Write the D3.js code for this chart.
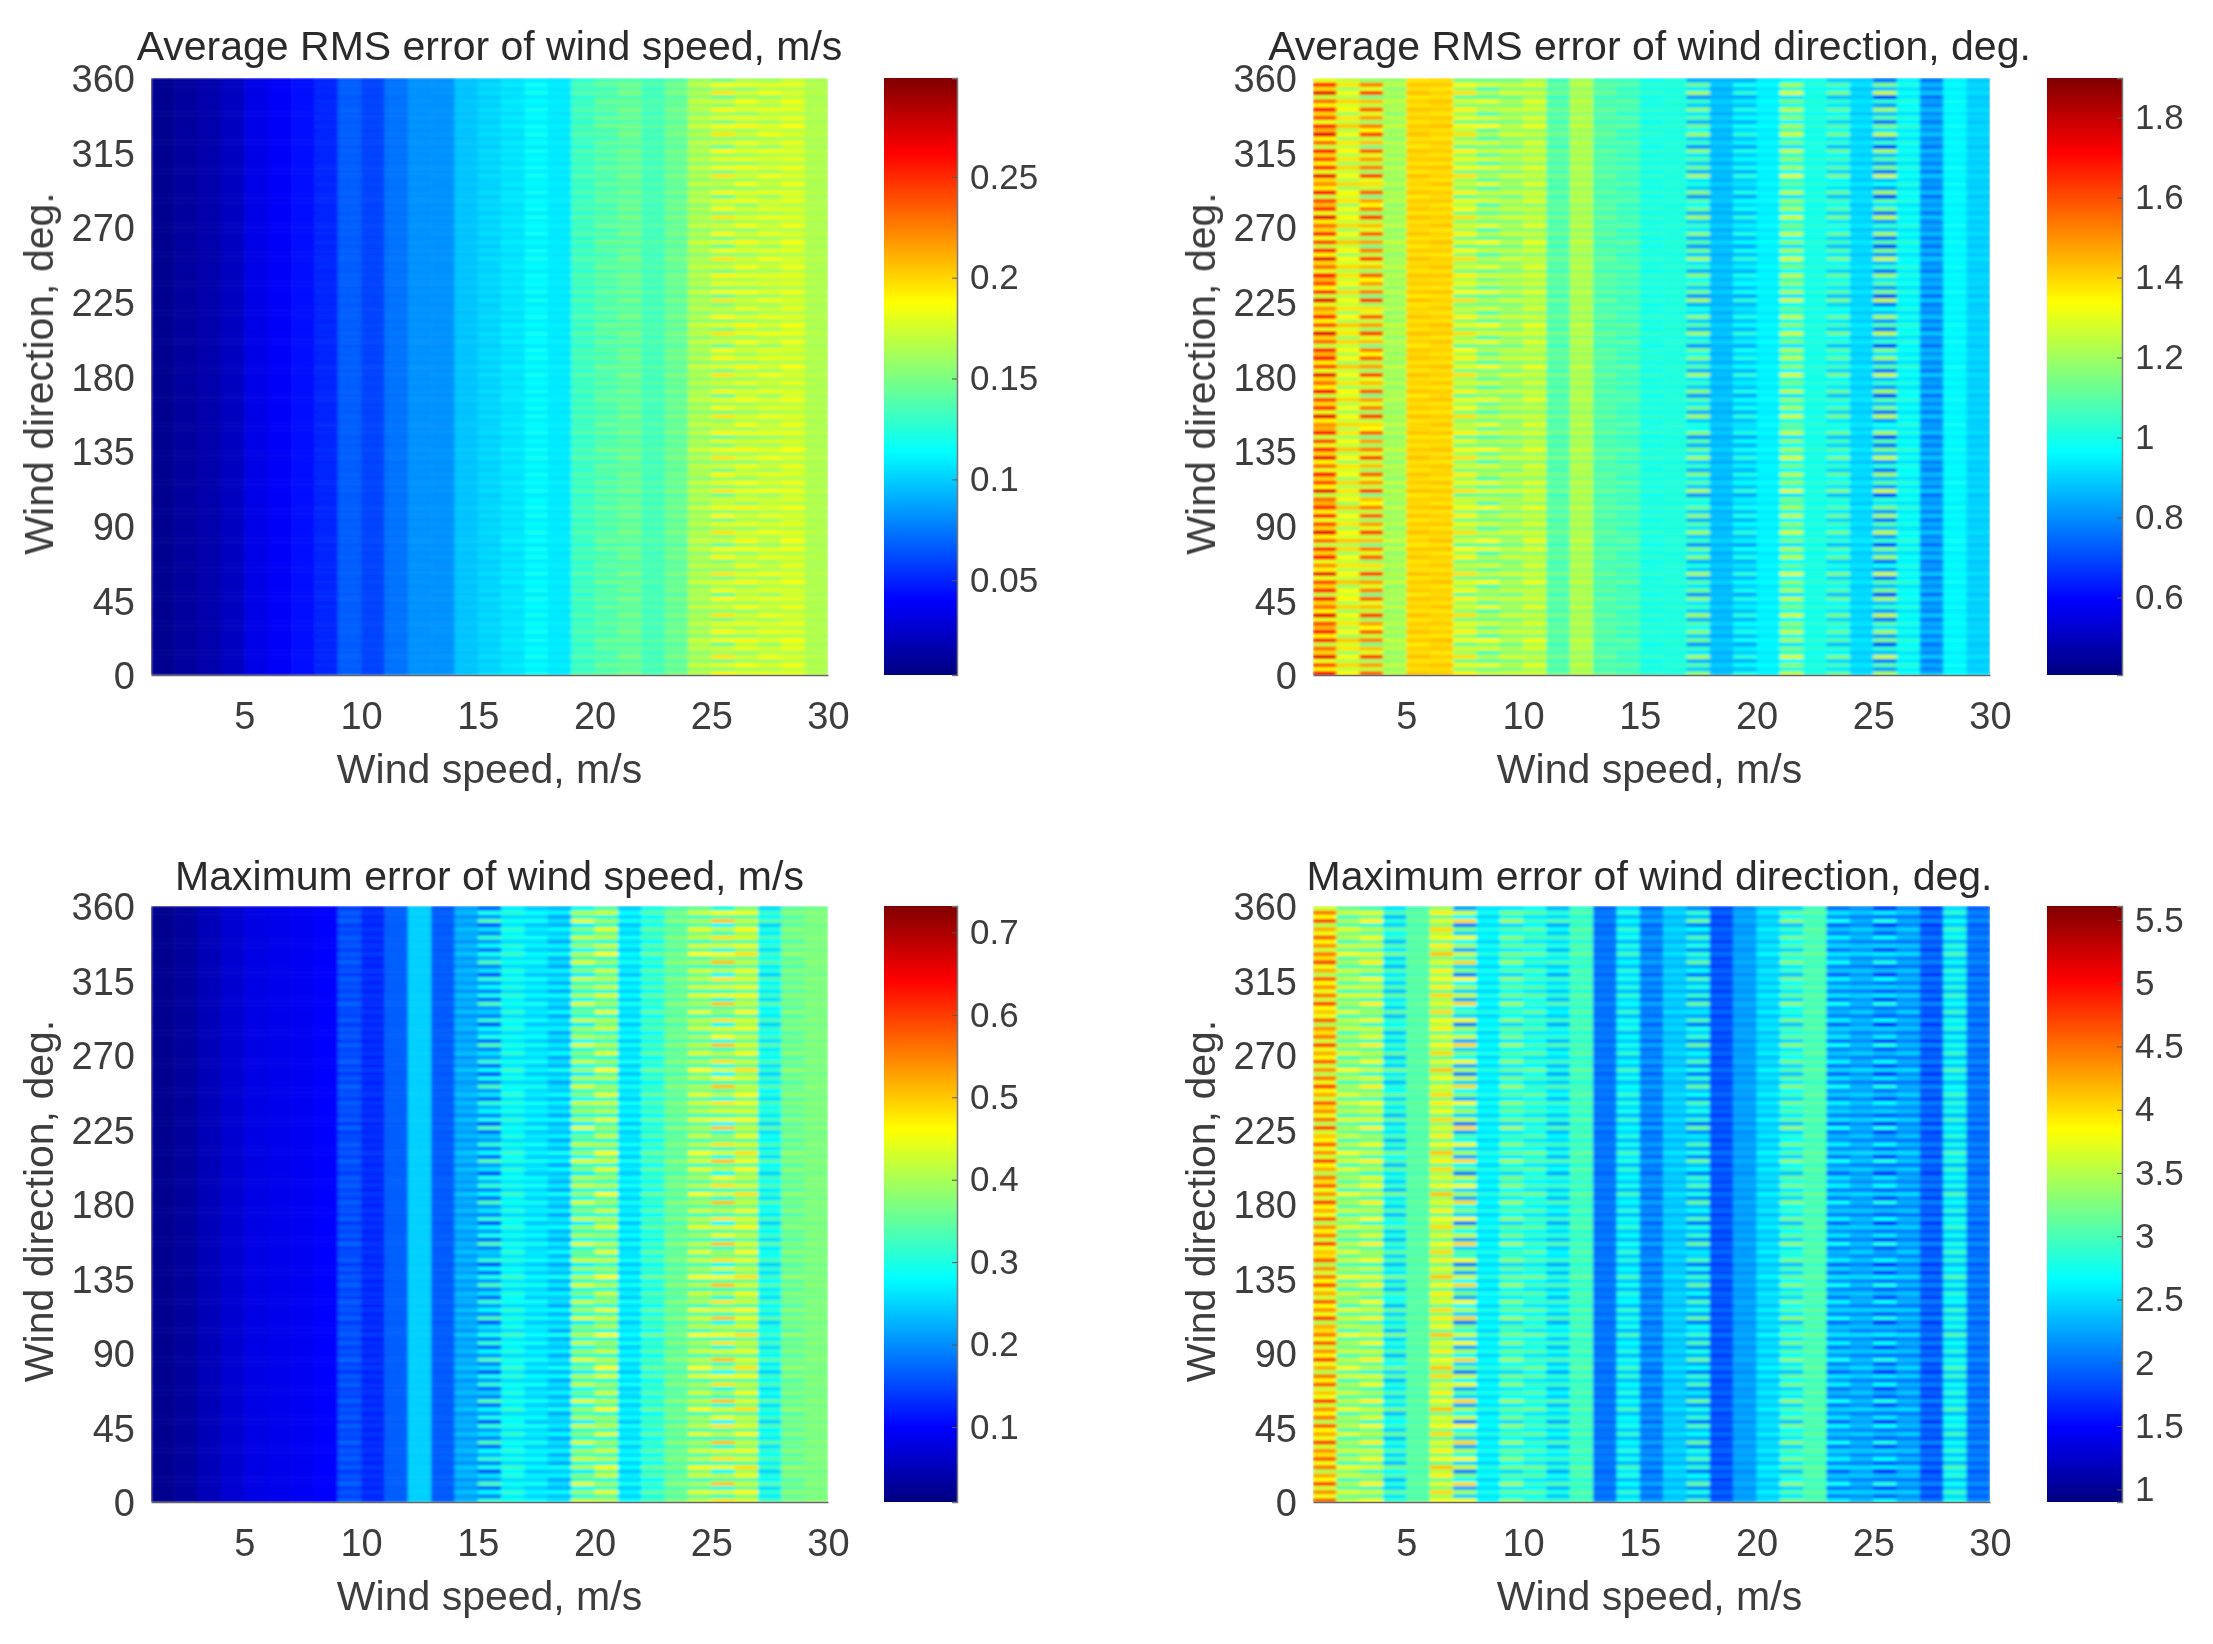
<!DOCTYPE html>
<html>
<head>
<meta charset="utf-8">
<script src="https://cdn.jsdelivr.net/npm/d3@7"></script>
<style>
  html, body { margin: 0; background: #fff; }
  text { font-family: "Liberation Sans", Arial, sans-serif; }
</style>
</head>
<body>
<svg id="chart" width="2213" height="1644"></svg>
<script>
// wind speed bins along x (left edge of each column), direction bins along y every 2.5 deg
const speeds = [1,2,3,4,5,6,7,8,9,10,11,12,13,14,15,16,17,18,19,20,21,22,23,24,25,26,27,28,29];
const directions = d3.range(0, 360, 2.5);

const xTicks = [5,10,15,20,25,30];
const yTicks = [0,45,90,135,180,225,270,315,360];

// stripe position between the low and high value, read row by row
const rowMixOdd = [
  .9,.2,.7,.1,1,.3,.6,0,.8,.2,.9,.4,
  .7,.1,1,.2,.6,.3,.9,0,.8,.3,.7,.1,
  1,.2,.5,.1,.9,.3,.8,0,.6,.2,1,.3,
  .7,.1,.9,.2,.8,.4,.6,0,1,.2,.7,.3,
  .9,.1,.6,.2,1,.3,.8,.1,.7,0,.9,.4,
  .5,.2,1,.1,.8,.3,.7,0,.9,.2,.6,.3,
  1,.1,.7,.2,.9,.4,.8,0,.6,.3,1,.1,
  .7,.2,.9,.3,.5,.1,1,0,.8,.2,.7,.4,
  .9,.1,.6,.3,1,.2,.8,0,.7,.1,.9,.3,
  .6,.2,1,.1,.8,.4,.7,0,.9,.2,.5,.3,
  1,.1,.8,.2,.7,.3,.9,0,.6,.2,1,.4,
  .8,.1,.7,.3,.9,.2,.6,0,1,.3,.8,.1
];
const rowMixEven = [
  .7,.3,.9,.2,.6,.1,.8,.4,1,.1,.7,.2,
  .8,.3,.6,.1,.9,.2,.7,.4,.6,.1,1,.3,
  .7,.2,.8,.3,.6,.1,.9,.2,1,.4,.7,.1,
  .8,.3,.6,.2,1,.1,.7,.3,.8,.2,.9,.1,
  .6,.4,.8,.1,.7,.2,1,.3,.6,.1,.8,.2,
  .9,.3,.7,.1,.6,.2,.9,.4,.7,.1,.8,.2,
  .6,.3,1,.1,.7,.2,.6,.3,.9,.1,.8,.4,
  1,.2,.7,.1,.8,.3,.6,.2,.9,.1,.7,.3,
  .8,.2,.9,.4,.6,.1,.7,.3,1,.2,.6,.1,
  .9,.3,.7,.2,.6,.1,.8,.4,.7,.1,.9,.2,
  .6,.3,.9,.1,.8,.2,.7,.3,.8,.1,.6,.2,
  1,.3,.8,.1,.7,.4,.9,.2,.6,.1,.8,.3
];

const avgSpeedLow = [.008,.012,.016,.022,.033,.038,.043,.05,.066,.058,.072,.081,.081,.095,.099,.103,.108,.106,.125,.13,.136,.13,.138,.152,.145,.152,.158,.162,.162];
const avgSpeedHigh = [.008,.012,.016,.022,.033,.038,.044,.052,.069,.061,.075,.084,.084,.099,.105,.11,.118,.11,.14,.148,.152,.14,.152,.175,.195,.19,.185,.188,.168];
const avgDirLow = [1.25,1.18,1.15,1.16,1.37,1.37,1.12,1.05,1.13,1.16,1.05,1.18,1.05,1.02,.98,1.0,.82,.84,.84,.93,.93,.98,.88,.88,.72,.92,.76,.94,.88];
const avgDirHigh = [1.75,1.42,1.62,1.26,1.43,1.43,1.38,1.34,1.28,1.32,1.14,1.26,1.13,1.12,1.04,1.03,1.2,.9,1.02,.97,1.28,1.03,1.14,.94,1.25,1.03,.88,.98,.92];
const maxSpeedLow = [.02,.03,.05,.067,.08,.085,.09,.1,.14,.12,.165,.245,.16,.2,.16,.25,.24,.21,.27,.29,.24,.27,.33,.31,.28,.33,.25,.33,.36];
const maxSpeedHigh = [.02,.03,.05,.067,.08,.085,.092,.104,.17,.14,.168,.25,.17,.24,.33,.32,.29,.29,.44,.46,.29,.36,.38,.46,.5,.48,.34,.39,.38];
const maxDirLow = [3.5,2.9,2.9,2.3,3.0,3.1,2.1,2.45,2.5,2.5,2.3,2.8,1.95,2.3,1.95,2.3,2.05,1.75,2.15,2.35,2.4,2.9,1.95,2.05,1.7,2.0,1.75,2.3,1.9];
const maxDirHigh = [4.7,3.8,3.9,3.2,3.15,4.1,4.0,2.8,3.4,3.2,3.0,3.15,2.1,2.95,2.25,2.55,3.1,2.0,2.3,2.65,3.3,3.15,2.7,2.5,2.8,2.5,2.1,3.0,2.15];

const titles = [
  'Average RMS error of wind speed, m/s',
  'Average RMS error of wind direction, deg.',
  'Maximum error of wind speed, m/s',
  'Maximum error of wind direction, deg.'
];
const colorDomains = [[.003,.299],[.406,1.899],[.009,.732],[.9,5.61]];
const colorTicks = [
  [.05,.1,.15,.2,.25],
  [.6,.8,1,1.2,1.4,1.6,1.8],
  [.1,.2,.3,.4,.5,.6,.7],
  [1,1.5,2,2.5,3,3.5,4,4.5,5,5.5]
];
const lows = [avgSpeedLow, avgDirLow, maxSpeedLow, maxDirLow];
const highs = [avgSpeedHigh, avgDirHigh, maxSpeedHigh, maxDirHigh];

const jetStops = ['#00007f','#0000ff','#007fff','#00ffff','#7fff7f','#ffff00','#ff7f00','#ff0000','#7f0000'];
const jet = d3.scaleLinear().domain(d3.range(9).map(i => i / 8)).range(jetStops).interpolate(d3.interpolateRgb).clamp(true);

const svg = d3.select('#chart');
const defs = svg.append('defs');
defs.append('filter').attr('id', 'soft').attr('x', '-2%').attr('y', '-2%').attr('width', '104%').attr('height', '104%')
  .append('feGaussianBlur').attr('stdDeviation', '1.8 1.1');
defs.append('filter').attr('id', 'softText').attr('x', '-5%').attr('y', '-5%').attr('width', '110%').attr('height', '110%')
  .append('feGaussianBlur').attr('stdDeviation', 0.7);

const jetGradient = defs.append('linearGradient').attr('id', 'jetBar')
  .attr('x1', 0).attr('y1', 1).attr('x2', 0).attr('y2', 0);
jetStops.forEach((c, i) => {
  jetGradient.append('stop').attr('offset', i / 8).attr('stop-color', c);
});

const plotLeft = [151, 1313];
const plotRight = [828, 1990];
const barLeft = [884, 2047];
const barRight = [957, 2122];
const plotTop = [78, 906];
const plotBottom = [675, 1502];
const titleGap = [18, 16];

const fontSize = 38;
const barFontSize = 35;
const labelSize = 41;
const inkColor = '#3c3c3c';

titles.forEach((title, p) => {
  const col = p % 2, row = p < 2 ? 0 : 1;
  const x = d3.scaleLinear().domain([1, 30]).range([plotLeft[col], plotRight[col]]);
  const y = d3.scaleLinear().domain([0, 360]).range([plotBottom[row], plotTop[row]]);
  const colorValue = d3.scaleLinear().domain(colorDomains[p]).range([0, 1]);
  const barY = d3.scaleLinear().domain(colorDomains[p]).range([plotBottom[row], plotTop[row]]);
  const low = lows[p], high = highs[p];
  const centerX = (plotLeft[col] + plotRight[col]) / 2 - col * 2;

  const clipId = 'clip' + p;
  defs.append('clipPath').attr('id', clipId).append('rect')
    .attr('x', x(1)).attr('y', y(360)).attr('width', x(30) - x(1)).attr('height', y(0) - y(360));

  const g = svg.append('g');

  // heat map cells
  const clipped = g.append('g').attr('clip-path', `url(#${clipId})`);
  const cells = clipped.append('g').attr('filter', 'url(#soft)');
  speeds.forEach((s, c) => {
    const mix = c % 2 ? rowMixEven : rowMixOdd;
    cells.selectAll(null).data(directions).enter().append('rect')
      .attr('x', x(s)).attr('width', x(s + 1) - x(s) + 0.5)
      .attr('y', d => y(d + 2.5)).attr('height', d => y(d) - y(d + 2.5) + 0.5)
      .attr('fill', (d, r) => jet(colorValue(low[c] + (high[c] - low[c]) * mix[r])));
  });

  // colorbar
  g.append('rect')
    .attr('x', barLeft[col]).attr('width', barRight[col] - barLeft[col])
    .attr('y', barY.range()[1]).attr('height', barY.range()[0] - barY.range()[1])
    .attr('fill', 'url(#jetBar)');

  // axes
  const text = g.append('g').attr('filter', 'url(#softText)');
  const styleAxis = (sel, size) => {
    sel.selectAll('text').attr('font-size', size).attr('fill', inkColor);
    sel.selectAll('line').attr('stroke', '#555');
    sel.selectAll('path').attr('stroke', '#666').attr('stroke-width', 1.5);
  };
  text.append('g').attr('transform', `translate(0,${plotBottom[row]})`)
    .call(d3.axisBottom(x).tickValues(xTicks).tickSize(0).tickPadding(27).tickFormat(d3.format('d')))
    .call(styleAxis, fontSize);
  text.append('g').attr('transform', `translate(${plotLeft[col]},0)`)
    .call(d3.axisLeft(y).tickValues(yTicks).tickSize(0).tickPadding(16).tickFormat(d3.format('d')))
    .call(styleAxis, fontSize)
    .call(a => a.select('.domain').remove())
    .call(a => a.selectAll('text').attr('dy', '0.36em'));
  text.append('g').attr('transform', `translate(${barRight[col]},0)`)
    .call(d3.axisRight(barY).tickValues(colorTicks[p]).tickSize(-5).tickPadding(13).tickFormat(d3.format('')))
    .call(styleAxis, barFontSize)
    .call(a => a.select('.domain').attr('stroke', '#777'));

  text.append('text')
    .attr('x', centerX).attr('y', plotTop[row] - titleGap[row])
    .attr('text-anchor', 'middle').attr('font-size', labelSize).attr('fill', '#2a2a2a')
    .text(title);
  text.append('text')
    .attr('x', centerX).attr('y', plotBottom[row] + 108)
    .attr('text-anchor', 'middle').attr('font-size', labelSize).attr('fill', inkColor)
    .text('Wind speed, m/s');
  text.append('text')
    .attr('transform', `translate(${plotLeft[col] - 98},${(plotTop[row] + plotBottom[row]) / 2 - 3}) rotate(-90)`)
    .attr('text-anchor', 'middle').attr('font-size', labelSize).attr('fill', inkColor)
    .text('Wind direction, deg.');
});
</script>
</body>
</html>
